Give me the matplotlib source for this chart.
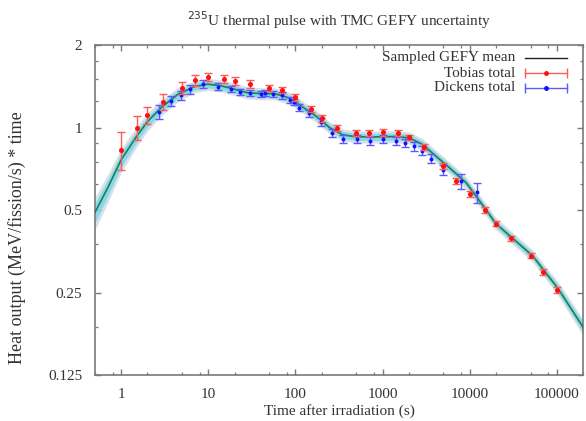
import numpy as np
import matplotlib
matplotlib.use("Agg")
import matplotlib.pyplot as plt
from matplotlib.ticker import FixedLocator, NullFormatter

plt.rcParams["font.family"] = ["Liberation Serif", "DejaVu Serif"]

# Sampled GEFY mean curve and its relative half-width (uncertainty band)
curve_t = [0.5, 0.7, 1, 1.5, 2, 2.86, 4.45, 6.9, 9.8, 14, 20, 28, 40, 57, 74, 85,
           120, 173, 246, 350, 500, 700, 1000, 1440, 2040, 2900, 4120, 5900, 9150,
           15500, 20000, 31500, 53000, 73000, 103000, 200000]
curve_v = [0.49, 0.602, 0.763, 0.928, 1.05, 1.18, 1.32, 1.41, 1.44, 1.42, 1.38, 1.34,
           1.33, 1.33, 1.30, 1.28, 1.19, 1.10, 1.00, 0.941, 0.925, 0.925, 0.925, 0.928,
           0.916, 0.866, 0.785, 0.712, 0.628, 0.50, 0.446, 0.393, 0.34, 0.298, 0.259, 0.187]
curve_hw = [0.08, 0.07, 0.06, 0.05, 0.045, 0.04, 0.035, 0.03, 0.03, 0.03, 0.03, 0.03,
            0.03, 0.03, 0.03, 0.03, 0.03, 0.03, 0.03, 0.03, 0.03, 0.03, 0.03, 0.03,
            0.03, 0.03, 0.03, 0.03, 0.03, 0.03, 0.03, 0.03, 0.03, 0.03, 0.035, 0.04]

# Tobias total
tob_t = [1, 1.5, 2, 3, 5, 7, 10, 15, 20, 30, 50, 70, 100, 150, 200, 300, 500, 700,
         1000, 1500, 2000, 3000, 5000, 7000, 10000, 15000, 20000, 30000, 50000, 70000, 100000]
tob_v = [0.83, 1.00, 1.11, 1.24, 1.40, 1.49, 1.53, 1.50, 1.48, 1.44, 1.39, 1.37, 1.29,
         1.17, 1.08, 0.995, 0.955, 0.955, 0.96, 0.958, 0.923, 0.849, 0.726, 0.64, 0.573,
         0.50, 0.446, 0.394, 0.341, 0.297, 0.256]
tob_err = [0.13, 0.10, 0.08, 0.085, 0.07, 0.07, 0.05, 0.05, 0.045, 0.045, 0.035, 0.035,
           0.035, 0.03, 0.03, 0.025, 0.025, 0.025, 0.025, 0.025, 0.02, 0.02, 0.017, 0.015,
           0.013, 0.012, 0.01, 0.009, 0.008, 0.007, 0.006]

# Dickens total
dick_t = [2.7, 3.7, 4.8, 6.2, 8.8, 12.8, 18, 23, 30, 40, 45, 55, 70, 87, 97, 111, 142,
          194, 264, 356, 507, 708, 1000, 1440, 1820, 2270, 2860, 3560, 5000, 8000, 12000]
dick_v = [1.144, 1.25, 1.31, 1.38, 1.44, 1.41, 1.38, 1.35, 1.34, 1.33, 1.335, 1.33, 1.31,
          1.26, 1.24, 1.18, 1.128, 1.05, 0.955, 0.908, 0.908, 0.895, 0.908, 0.895, 0.878,
          0.853, 0.823, 0.77, 0.70, 0.636, 0.58]
dick_err = [0.065, 0.055, 0.05, 0.055, 0.05, 0.04, 0.035, 0.035, 0.035, 0.035, 0.035,
            0.035, 0.035, 0.035, 0.035, 0.035, 0.035, 0.035, 0.03, 0.03, 0.03, 0.03, 0.03,
            0.03, 0.03, 0.03, 0.03, 0.03, 0.03, 0.04, 0.05]

x_major = [1, 10, 100, 1000, 10000, 100000]
x_labels = ["1", "10", "100", "1000", "10000", "100000"]
y_major = [0.125, 0.25, 0.5, 1, 2]
y_labels = ["0.125", "0.25", "0.5", "1", "2"]

TXT = "#333333"
AX = "#7a7a7a"


def main() -> None:
    fig = plt.figure(figsize=(5.86, 4.21), dpi=100)
    ax = fig.add_axes([0.162, 0.109, 0.833, 0.784])

    t = np.array(curve_t)
    v = np.array(curve_v)
    hw = np.array(curve_hw)

    # uncertainty band: soft grey halo + cyan core
    ax.fill_between(t, v * (1 - 1.7 * hw), v * (1 + 1.7 * hw), color="#c9d3dc",
                    alpha=0.7, lw=0, zorder=1)
    ax.fill_between(t, v * (1 - hw), v * (1 + hw), color="#7fd6ee", alpha=0.9,
                    lw=0, zorder=2)
    ax.plot(t, v, color="#1f7f45", lw=1.2, zorder=3)

    ax.errorbar(tob_t, tob_v, yerr=tob_err, fmt="o", ms=2.6, color="#ff1010",
                ecolor="#ff5a5a", elinewidth=1.0, capsize=3, capthick=1.0, zorder=5)
    ax.errorbar(dick_t, dick_v, yerr=dick_err, fmt="o", ms=1.8, color="#1010ff",
                ecolor="#5a5aff", elinewidth=1.0, capsize=3, capthick=1.0, zorder=4)

    ax.set_xscale("log")
    ax.set_yscale("log", base=2)
    ax.set_xlim(0.5, 2e5)
    ax.set_ylim(0.125, 2)

    ax.xaxis.set_major_locator(FixedLocator(x_major))
    ax.set_xticklabels(x_labels)
    x_minor = [m * d for d in [0.1, 1, 10, 100, 1000, 10000, 100000] for m in (2, 5, 8)]
    ax.xaxis.set_minor_locator(FixedLocator(x_minor))
    ax.xaxis.set_minor_formatter(NullFormatter())

    ax.yaxis.set_major_locator(FixedLocator(y_major))
    ax.set_yticklabels(y_labels)
    ax.yaxis.set_minor_locator(FixedLocator([0.1875, 0.375, 0.625, 0.75, 0.875,
                                             1.25, 1.5, 1.75]))
    ax.yaxis.set_minor_formatter(NullFormatter())

    ax.tick_params(which="both", direction="in", top=True, right=True, colors=AX,
                   labelcolor=TXT, labelsize=11)
    ax.tick_params(which="major", length=4.5, width=1.0, pad=9)
    ax.tick_params(which="minor", length=2.5, width=0.9)
    for s in ax.spines.values():
        s.set_color(AX)
        s.set_linewidth(1.2)

    ax.set_xlabel("Time after irradiation (s)", fontsize=11, color=TXT)
    ax.xaxis.set_label_coords(0.5, -0.088)
    ax.set_ylabel("Heat output (MeV/fission/s) * time", fontsize=13, color=TXT)
    ax.yaxis.set_label_coords(-0.142, 0.417)

    ax.set_title(r"$^{235}$U thermal pulse with TMC GEFY uncertainty",
                 fontsize=11, color=TXT, pad=14)

    # legend drawn gnuplot-style: right-aligned text, sample on the right
    tr = ax.transAxes
    rows = [0.961, 0.915, 0.870]
    names = ["Sampled GEFY mean", "Tobias total", "Dickens total"]
    x0, x1 = 0.881, 0.967
    for yy, name in zip(rows, names):
        ax.text(0.861, yy, name, transform=tr, ha="right", va="center",
                fontsize=11, color=TXT)
    ax.plot([x0, x1], [rows[0]] * 2, transform=tr, color="#222222", lw=1.0)
    for yy, c, ec in [(rows[1], "#ff1010", "#ff5a5a"), (rows[2], "#1010ff", "#5a5aff")]:
        ax.plot([x0, x1], [yy, yy], transform=tr, color=ec, lw=1.0)
        ax.plot([x0, x1], [yy, yy], transform=tr, ls="none", marker="|", ms=7,
                mew=1.0, color=ec)
        ax.plot([(x0 + x1) / 2], [yy], transform=tr, marker="o", ms=2.5, color=c)

    fig.savefig("out.png", dpi=100)
    plt.close(fig)


if __name__ == "__main__":
    main()
